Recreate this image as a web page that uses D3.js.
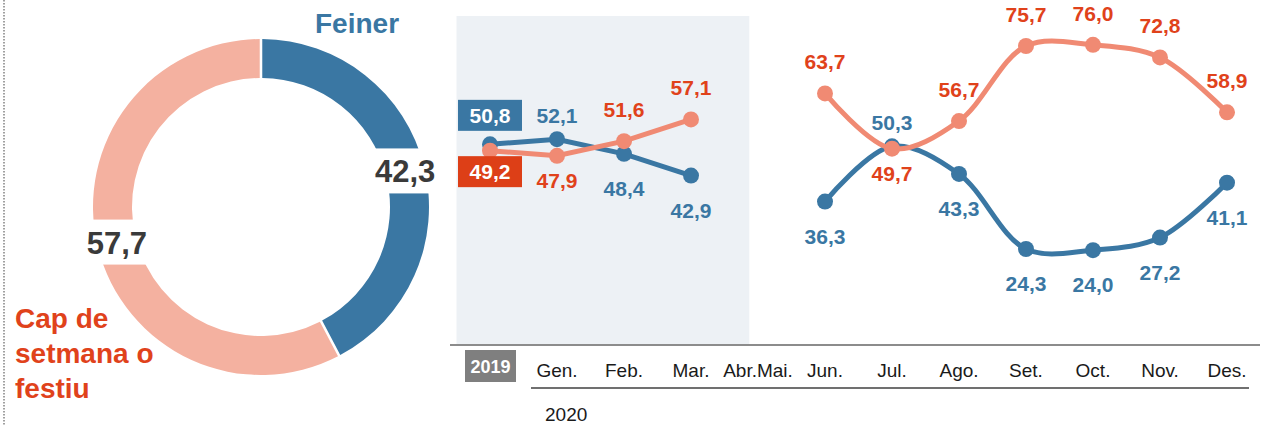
<!DOCTYPE html>
<html>
<head>
<meta charset="utf-8">
<script src="https://cdn.jsdelivr.net/npm/d3@7"></script>
<style>
  body { margin: 0; background: #fff; }
  svg { display: block; font-family: "Liberation Sans", Arial, sans-serif; }
</style>
</head>
<body>
<svg id="chart" width="1262" height="425"></svg>
<script>
// donut: share of days
var shareNames = ["Feiner", "Cap de setmana o festiu"];
var shareValues = [42.3, 57.7];

// line chart slots (2019 annual value, then 2020 months)
var slots = ["2019", "Gen.", "Feb.", "Mar.", "Abr.Mai.", "Jun.", "Jul.", "Ago.", "Set.", "Oct.", "Nov.", "Des."];
var feinerValues = [50.8, 52.1, 48.4, 42.9, null, 36.3, 50.3, 43.3, 24.3, 24.0, 27.2, 41.1];
var capValues = [49.2, 47.9, 51.6, 57.1, null, 63.7, 49.7, 56.7, 75.7, 76.0, 72.8, 58.9];

// where each value label sits
var feinerLabelPos = ["box", "above", "below", "below", null, "below", "above", "below", "below", "below", "below", "below"];
var capLabelPos = ["box", "below", "above", "above", null, "above", "below", "above", "above", "above", "above", "above"];

var blue = "#3a77a3";
var salmonLine = "#f08a73";
var salmonRing = "#f4b1a0";
var redText = "#e0421b";
var darkText = "#3a3a3a";

var svg = d3.select("#chart");
var fmt = function(v) { return d3.format(".1f")(v).replace(".", ","); };

// dotted left border
svg.append("line")
  .attr("x1", 4).attr("x2", 4)
  .attr("y1", 0).attr("y2", 425)
  .attr("stroke", "#a0a0a0")
  .attr("stroke-width", 2)
  .attr("stroke-dasharray", "1.5,1.5");

// ---------- Donut ----------
var cx = 261, cy = 207;
var pie = d3.pie().sort(null).value(function(d) { return d; });
var arc = d3.arc().innerRadius(129).outerRadius(168).padAngle(0.012);
var arcs = pie(shareValues);
var donut = svg.append("g").attr("transform", `translate(${cx},${cy})`);

donut.selectAll("path")
  .data(arcs)
  .enter()
  .append("path")
  .attr("d", arc)
  .attr("fill", function(d, i) { return i == 0 ? blue : salmonRing; });

var donutLabels = donut.selectAll(".dl")
  .data(arcs)
  .enter()
  .append("g")
  .attr("class", "dl")
  .attr("transform", function(d) {
    var c = arc.centroid(d);
    return `translate(${c[0]},${c[1]})`;
  });

donutLabels.append("rect")
  .attr("x", -33).attr("y", -23)
  .attr("width", 66).attr("height", 45)
  .attr("fill", "#fff");

donutLabels.append("text")
  .attr("text-anchor", "middle")
  .attr("y", 11)
  .attr("font-size", 31)
  .attr("font-weight", "bold")
  .attr("fill", darkText)
  .text(function(d) { return fmt(d.value); });

svg.append("text")
  .attr("x", 315).attr("y", 33)
  .attr("font-size", 28)
  .attr("font-weight", "bold")
  .attr("fill", blue)
  .text(shareNames[0]);

svg.append("text")
  .attr("x", 15).attr("y", 328)
  .attr("font-size", 28)
  .attr("font-weight", "bold")
  .attr("fill", redText)
  .selectAll("tspan")
  .data(["Cap de", "setmana o", "festiu"])
  .enter()
  .append("tspan")
  .attr("x", 15)
  .attr("dy", function(d, i) { return i == 0 ? 0 : 35; })
  .text(function(d) { return d; });

// ---------- Line chart ----------
var x = d3.scalePoint().domain(slots).range([490, 1227]);
var y = d3.scaleLinear().domain([0, 80]).range([345, 29]);
var step = x.step();

// shaded 2019 - March panel
svg.append("rect")
  .attr("x", x(slots[0]) - step / 2)
  .attr("y", 16)
  .attr("width", x("Mar.") + step * 0.87 - (x(slots[0]) - step / 2))
  .attr("height", y(0) - 16)
  .attr("fill", "#edf1f5");

// baseline
svg.append("line")
  .attr("x1", 450).attr("x2", 1260)
  .attr("y1", y(0)).attr("y2", y(0))
  .attr("stroke", "#8c8c8c")
  .attr("stroke-width", 2);

// month labels
svg.selectAll(".month")
  .data(slots.slice(1))
  .enter()
  .append("text")
  .attr("class", "month")
  .attr("x", function(d) { return x(d); })
  .attr("y", 377)
  .attr("text-anchor", "middle")
  .attr("font-size", 19)
  .attr("fill", "#1a1a1a")
  .text(function(d) { return d; });

// 2019 tag
svg.append("rect")
  .attr("x", x(slots[0]) - 25).attr("y", 350)
  .attr("width", 51).attr("height", 32)
  .attr("fill", "#7f7f7f");
svg.append("text")
  .attr("x", x(slots[0]) + 0.5).attr("y", 373)
  .attr("text-anchor", "middle")
  .attr("font-size", 18)
  .attr("font-weight", "bold")
  .attr("fill", "#fff")
  .text(slots[0]);

// 2020 bracket line
svg.append("line")
  .attr("x1", 531).attr("x2", 1249)
  .attr("y1", 388).attr("y2", 388)
  .attr("stroke", "#707070")
  .attr("stroke-width", 2);
svg.append("text")
  .attr("x", 545).attr("y", 421)
  .attr("font-size", 19)
  .attr("fill", "#1a1a1a")
  .text("2020");

function drawSeries(values, color, textColor, positions, offsets) {
  var pts = values.map(function(v, i) { return { key: slots[i], value: v, pos: positions[i] }; });
  var first = pts.slice(0, 4);
  var second = pts.slice(5);

  var straight = d3.line()
    .x(function(d) { return x(d.key); })
    .y(function(d) { return y(d.value); });
  var curved = d3.line()
    .curve(d3.curveCatmullRom.alpha(0.5))
    .x(function(d) { return x(d.key); })
    .y(function(d) { return y(d.value); });

  var g = svg.append("g");
  g.append("path").attr("d", straight(first))
    .attr("fill", "none").attr("stroke", color).attr("stroke-width", 5);
  g.append("path").attr("d", curved(second))
    .attr("fill", "none").attr("stroke", color).attr("stroke-width", 5);

  var valid = pts.filter(function(d) { return d.value != null; });

  g.selectAll("circle")
    .data(valid)
    .enter()
    .append("circle")
    .attr("cx", function(d) { return x(d.key); })
    .attr("cy", function(d) { return y(d.value); })
    .attr("r", 8)
    .attr("fill", color);

  valid.forEach(function(d) {
    var px = x(d.key), py = y(d.value);
    if (d.pos == "box") {
      var by = py + offsets.box;
      g.append("rect")
        .attr("x", px - 32).attr("y", by - 15.5)
        .attr("width", 64).attr("height", 31)
        .attr("fill", offsets.boxFill);
      g.append("text")
        .attr("x", px).attr("y", by + 7.5)
        .attr("text-anchor", "middle")
        .attr("font-size", 21)
        .attr("font-weight", "bold")
        .attr("fill", "#fff")
        .text(fmt(d.value));
    } else {
      g.append("text")
        .attr("x", px)
        .attr("y", py + offsets[d.pos])
        .attr("text-anchor", "middle")
        .attr("font-size", 21)
        .attr("font-weight", "bold")
        .attr("fill", textColor)
        .text(fmt(d.value));
    }
  });
}

drawSeries(feinerValues, blue, blue, feinerLabelPos, { above: -16, below: 42, box: -29, boxFill: blue });
drawSeries(capValues, salmonLine, redText, capLabelPos, { above: -24, below: 32, box: 21, boxFill: "#dd3f17" });
</script>
</body>
</html>
